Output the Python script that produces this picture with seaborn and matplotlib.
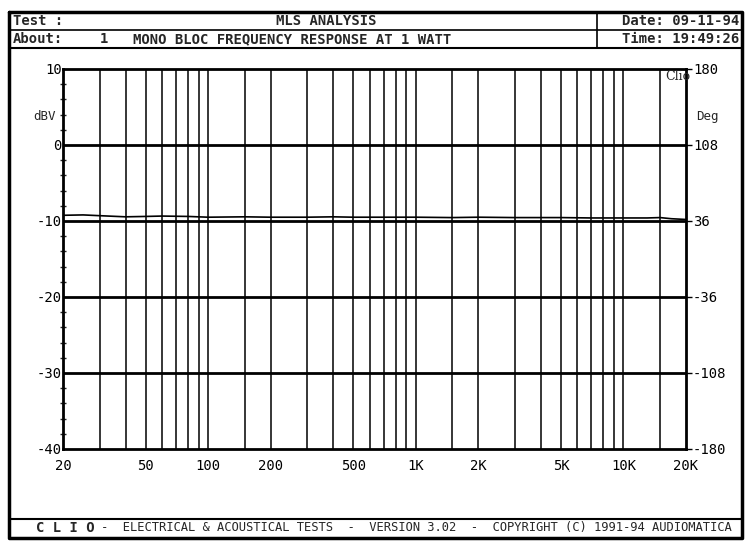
import numpy as np
import matplotlib.pyplot as plt
import seaborn as sns
from matplotlib.ticker import FixedLocator, NullFormatter

# frequency response readings (Hz, dBV)
freq = [20, 25, 30, 40, 50, 60, 80, 100, 150, 200, 300, 400, 500, 700,
        1000, 1500, 2000, 3000, 5000, 7000, 10000, 13000, 15000, 17000, 20000]
level = [-9.25, -9.2, -9.3, -9.45, -9.4, -9.35, -9.4, -9.5, -9.45, -9.5, -9.5,
         -9.45, -9.5, -9.5, -9.5, -9.55, -9.5, -9.55, -9.55, -9.6, -9.6,
         -9.6, -9.55, -9.7, -9.8]

# grid and tick labels
grid_freq = ([20, 30, 40, 50, 60, 70, 80, 90, 100, 150] +
             [200, 300, 400, 500, 600, 700, 800, 900, 1000, 1500] +
             [2000, 3000, 4000, 5000, 6000, 7000, 8000, 9000, 10000, 15000, 20000])
x_ticks = [20, 50, 100, 200, 500, 1000, 2000, 5000, 10000, 20000]
x_labels = ['20', '50', '100', '200', '500', '1K', '2K', '5K', '10K', '20K']
db_ticks = [10, 0, -10, -20, -30, -40]
deg_labels = ['180', '108', '36', '-36', '-108', '-180']

sns.set_style("white")
plt.rcParams['font.family'] = ['DejaVu Sans Mono', 'DejaVu Sans']

fig = plt.figure(figsize=(7.5, 5.48), dpi=100)
W, H = 750, 548


def fx(px):
    return px / W


def fy(py):
    return 1 - py / H


ax = fig.add_axes([fx(63), fy(449), (686 - 63) / W, (449 - 69) / H])

ax.set_xscale('log')
ax.set_xlim(20, 20000)
ax.set_ylim(-40, 10)

for f in grid_freq[1:-1]:
    ax.axvline(f, color='black', lw=1.1, zorder=1)
for d in [0, -10, -20, -30]:
    ax.axhline(d, color='black', lw=2, zorder=1)

sns.lineplot(x=freq, y=level, ax=ax, color='black', lw=1.2, zorder=3)

for s in ax.spines.values():
    s.set_color('black')
    s.set_linewidth(2)

ax.xaxis.set_major_locator(FixedLocator(x_ticks))
ax.xaxis.set_minor_locator(FixedLocator([]))
ax.xaxis.set_minor_formatter(NullFormatter())
ax.set_xticklabels(x_labels)
ax.set_yticks(db_ticks)
ax.set_yticklabels([str(v) for v in db_ticks])
ax.yaxis.set_minor_locator(FixedLocator(np.arange(-40, 11, 2)))
ax.tick_params(axis='x', direction='inout', length=6, width=1, pad=4,
               labelsize=10, colors='black')
ax.tick_params(axis='y', which='major', direction='in', length=0, pad=1,
               labelsize=10, colors='black')
ax.tick_params(axis='y', which='minor', direction='inout', length=4, width=1,
               left=True)

ax2 = ax.twinx()
ax2.set_ylim(-40, 10)
ax2.set_yticks(db_ticks)
ax2.set_yticklabels(deg_labels)
ax2.tick_params(axis='y', direction='out', length=4, width=1, pad=1,
                labelsize=10, colors='black')
for s in ax2.spines.values():
    s.set_visible(False)

fig.text(fx(45), fy(116), 'dBV', fontsize=9, ha='center', va='center')
fig.text(fx(696), fy(117), 'Deg', fontsize=9, ha='left', va='center')
fig.text(fx(665), fy(77), 'Clio', fontsize=9, ha='left', va='center',
         family='DejaVu Serif')

# page frame, header and footer
frame = fig.add_axes([0, 0, 1, 1], zorder=-1)
frame.set_xlim(0, W)
frame.set_ylim(H, 0)
frame.axis('off')
frame.plot([9, 742, 742, 9, 9], [12, 12, 538, 538, 12], color='black', lw=2.5)
frame.plot([9, 742], [30, 30], color='black', lw=1.2)
frame.plot([9, 742], [48, 48], color='black', lw=1.5)
frame.plot([597, 597], [12, 48], color='black', lw=1.2)
frame.plot([9, 742], [519, 519], color='black', lw=1.5)

hdr = dict(fontsize=10, fontweight='bold', va='center')
frame.text(13, 21, 'Test :', ha='left', **hdr)
frame.text(326, 21, 'MLS ANALYSIS', ha='center', **hdr)
frame.text(739, 21, 'Date: 09-11-94', ha='right', **hdr)
frame.text(13, 39, 'About:', ha='left', **hdr)
frame.text(100, 39, '1', ha='left', **hdr)
frame.text(133, 39, 'MONO BLOC FREQUENCY RESPONSE AT 1 WATT', ha='left', **hdr)
frame.text(739, 39, 'Time: 19:49:26', ha='right', **hdr)

frame.text(36, 528, 'C L I O', fontsize=10, fontweight='bold', ha='left',
           va='center')
frame.text(101, 528, '-  ELECTRICAL & ACOUSTICAL TESTS  -  VERSION 3.02  -  '
           'COPYRIGHT (C) 1991-94 AUDIOMATICA', fontsize=8.7, ha='left',
           va='center')

fig.savefig('out.png', dpi=100)
